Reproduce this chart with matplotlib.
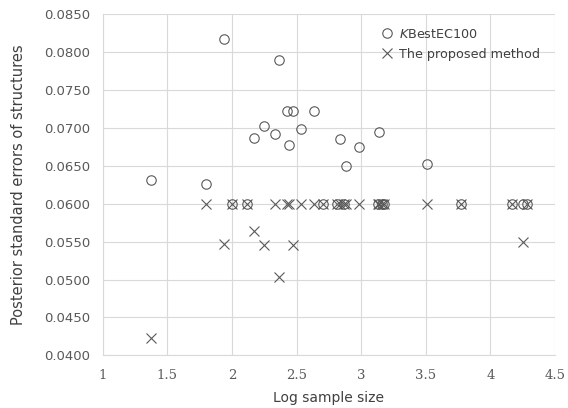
"""Posterior standard errors vs log sample size."""

import matplotlib
matplotlib.use("Agg")
import matplotlib.pyplot as plt

# log sample size for each data set
log_n = [1.372, 1.802, 1.935, 2.000, 2.120, 2.173, 2.247, 2.330, 2.363, 2.425,
         2.438, 2.470, 2.537, 2.635, 2.707, 2.810, 2.833, 2.864, 2.883, 2.983,
         3.130, 3.141, 3.160, 3.175, 3.506, 3.769, 4.170, 4.250, 4.283]
kbest_se = [0.0632, 0.0626, 0.0818, 0.0600, 0.0600, 0.0687, 0.0702, 0.0692, 0.0790, 0.0723,
            0.0678, 0.0723, 0.0698, 0.0723, 0.0600, 0.0600, 0.0686, 0.0600, 0.0650, 0.0675,
            0.0600, 0.0695, 0.0600, 0.0600, 0.0652, 0.0600, 0.0600, 0.0600, 0.0600]
proposed_se = [0.0423, 0.0600, 0.0547, 0.0600, 0.0600, 0.0564, 0.0545, 0.0600, 0.0504, 0.0600,
               0.0600, 0.0546, 0.0600, 0.0600, 0.0600, 0.0600, 0.0600, 0.0600, 0.0600, 0.0600,
               0.0600, 0.0600, 0.0600, 0.0600, 0.0600, 0.0600, 0.0600, 0.0549, 0.0600]

x_ticks = [1, 1.5, 2, 2.5, 3, 3.5, 4, 4.5]
y_ticks = [0.040, 0.045, 0.050, 0.055, 0.060, 0.065, 0.070, 0.075, 0.080, 0.085]

plt.rcParams["font.family"] = ["DejaVu Sans"]

fig = plt.figure(figsize=(5.68, 4.08), dpi=100)
ax = fig.add_axes([0.181, 0.129, 0.796, 0.836])

ax.plot(log_n, kbest_se, linestyle="none", marker="o", markersize=6.8,
        markerfacecolor="none", markeredgecolor="#595959", markeredgewidth=0.8,
        label=r"$K$BestEC100")
ax.plot(log_n, proposed_se, linestyle="none", marker="x", markersize=6.5,
        color="#595959", markeredgewidth=0.8, label="The proposed method")

ax.set_xlim(1, 4.5)
ax.set_ylim(0.040, 0.085)
ax.set_xticks(x_ticks)
ax.set_xticklabels([f"{t:g}" for t in x_ticks], family="DejaVu Serif")
ax.set_yticks(y_ticks)
ax.set_yticklabels([f"{t:.4f}" for t in y_ticks])
ax.tick_params(length=0, labelsize=9.5, colors="#595959")
ax.tick_params(axis="x", pad=10)
ax.tick_params(axis="y", pad=9)

ax.grid(True, color="#d9d9d9", linewidth=0.8)
ax.set_axisbelow(True)
for side in ["top", "right"]:
    ax.spines[side].set_visible(False)
for side in ["left", "bottom"]:
    ax.spines[side].set_color("#d9d9d9")
    ax.spines[side].set_linewidth(0.8)

ax.set_xlabel("Log sample size", fontsize=10, color="#404040", labelpad=6)
ax.set_ylabel("Posterior standard errors of structures", fontsize=10.5,
              color="#404040", labelpad=13)

ax.legend(loc="upper left", bbox_to_anchor=(0.60, 0.975), frameon=False,
          fontsize=9.2, handletextpad=0.35, labelspacing=0.55, labelcolor="#404040",
          handlelength=1.2, borderaxespad=0.0)

fig.savefig("out.png", dpi=100)
